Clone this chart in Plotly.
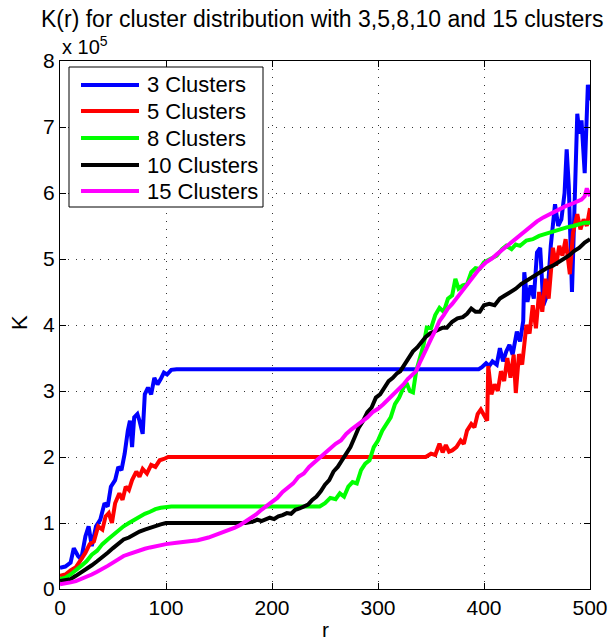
import plotly.graph_objects as go

# ---- data (K in units of 1e5) ----
r_3 = [0,5,10,13,17,20,24,27,30,34,38,42,45,48,52,55,58,61,64,66,68,70,73,75,78,80,83,86,89,92,95,98,101,105,110,
       395,398,402,405,408,412,415,418,421,424,427,431,434,437,438,441,444,447,450,453,456,460,463,467,470,473,476,478,480,483,486,488,490,492,495,498,500]
k_3 = [0.32,0.34,0.40,0.62,0.50,0.45,0.80,0.95,0.65,0.95,1.05,1.30,1.25,1.55,1.65,1.85,1.80,2.05,2.40,2.55,2.15,2.60,2.65,2.55,2.35,2.95,3.05,2.95,3.20,3.10,3.18,3.28,3.25,3.32,3.33,
       3.33,3.36,3.42,3.38,3.45,3.40,3.65,3.45,3.60,3.70,3.55,3.90,3.75,4.06,4.80,4.35,4.60,4.40,5.10,5.17,4.30,4.47,5.20,5.83,5.50,5.60,6.00,6.66,6.10,4.50,6.20,7.20,6.90,7.10,6.30,7.64,7.40]

r_5 = [0,5,10,15,20,24,28,32,36,40,43,46,49,52,56,59,62,65,68,72,75,78,82,86,90,94,98,102,108,
       345,350,354,358,361,364,367,370,374,378,381,384,388,391,394,397,400,403,404,407,410,413,416,419,422,425,428,430,433,436,440,443,446,449,452,455,458,461,465,468,471,474,477,481,484,488,491,494,497,500]
k_5 = [0.20,0.22,0.28,0.33,0.45,0.55,0.68,0.72,0.95,0.90,1.10,1.15,1.00,1.30,1.45,1.35,1.55,1.50,1.65,1.78,1.70,1.82,1.75,1.88,1.85,1.95,1.97,2.00,2.00,
       2.00,2.05,2.03,2.20,2.07,2.18,2.08,2.10,2.15,2.25,2.20,2.40,2.50,2.45,2.65,2.72,2.62,2.55,3.38,2.95,3.10,3.00,3.30,3.15,3.50,3.20,3.55,2.97,3.56,3.40,4.00,3.87,4.30,3.95,4.50,4.20,4.70,4.40,5.17,4.90,5.20,5.05,5.30,4.77,5.40,5.68,5.45,5.60,5.50,5.77]

r_8 = [0,5,10,15,20,25,30,35,40,45,50,55,60,65,70,75,80,85,90,95,100,105,
       245,250,255,260,264,268,272,276,280,284,288,292,296,300,304,308,312,316,320,324,327,330,333,336,340,343,346,350,354,358,362,366,370,373,376,380,384,388,392,396,400,406,412,417,421,426,430,434,440,446,452,458,465,472,478,484,490,495,500]
k_8 = [0.15,0.17,0.22,0.28,0.35,0.42,0.52,0.58,0.68,0.75,0.82,0.90,0.95,1.00,1.05,1.10,1.14,1.17,1.21,1.23,1.24,1.25,
       1.25,1.30,1.38,1.36,1.45,1.40,1.55,1.62,1.60,1.80,1.90,1.95,2.15,2.25,2.40,2.50,2.60,2.80,2.90,3.05,3.12,3.00,2.98,3.30,3.55,3.70,3.96,3.95,4.15,4.26,4.20,4.40,4.45,4.70,4.55,4.60,4.62,4.80,4.86,4.85,4.95,5.00,5.05,5.15,5.20,5.15,5.22,5.20,5.28,5.30,5.35,5.38,5.42,5.45,5.48,5.50,5.52,5.55,5.55]

r_10 = [0,5,10,15,20,25,30,35,40,45,50,55,60,65,70,75,80,85,90,95,100,105,
        175,182,186,190,195,198,202,206,210,214,218,222,226,230,234,238,242,246,250,254,258,262,266,270,274,278,282,286,290,294,298,302,306,310,314,318,321,325,329,333,337,341,345,349,353,357,361,365,370,375,380,384,388,392,396,400,405,410,415,420,425,430,435,440,445,450,455,459,465,470,475,480,485,490,495,500]
k_10 = [0.12,0.13,0.15,0.20,0.25,0.30,0.36,0.42,0.48,0.55,0.62,0.68,0.75,0.78,0.83,0.87,0.90,0.93,0.96,0.98,1.00,1.00,
        1.00,1.02,1.05,1.03,1.06,1.08,1.06,1.10,1.12,1.15,1.14,1.20,1.22,1.25,1.28,1.35,1.40,1.48,1.58,1.65,1.78,1.85,1.95,2.05,2.15,2.30,2.45,2.55,2.68,2.75,2.90,2.95,3.05,3.15,3.20,3.27,3.30,3.40,3.50,3.60,3.66,3.75,3.82,3.87,3.90,3.92,3.96,3.96,4.05,4.10,4.12,4.17,4.25,4.20,4.20,4.30,4.32,4.30,4.40,4.45,4.50,4.55,4.62,4.67,4.72,4.78,4.82,4.86,4.90,4.95,5.00,5.05,5.12,5.17,5.25,5.30]

r_15 = [0,5,10,15,20,25,30,35,40,45,50,55,60,65,70,75,80,85,90,95,100,110,120,130,140,150,155,160,165,170,175,180,185,190,195,200,205,210,215,220,225,230,235,240,245,250,255,260,265,270,275,280,285,290,295,300,305,310,315,320,324,328,332,336,340,343,347,351,355,358,362,366,370,374,378,382,386,390,396,402,407,412,418,424,429,434,440,445,450,456,462,467,472,477,482,488,492,495,497,500]
k_15 = [0.07,0.08,0.10,0.12,0.15,0.19,0.22,0.26,0.30,0.35,0.40,0.45,0.50,0.53,0.56,0.59,0.61,0.63,0.65,0.67,0.68,0.70,0.72,0.74,0.78,0.84,0.86,0.90,0.93,0.97,1.02,1.08,1.13,1.20,1.26,1.32,1.38,1.47,1.54,1.60,1.70,1.75,1.85,1.92,2.00,2.05,2.12,2.20,2.25,2.35,2.42,2.48,2.53,2.60,2.68,2.73,2.80,2.88,2.95,3.02,3.10,3.18,3.25,3.30,3.45,3.56,3.70,3.82,3.95,4.06,4.15,4.25,4.32,4.40,4.50,4.58,4.65,4.72,4.86,4.95,5.00,5.07,5.15,5.22,5.30,5.37,5.45,5.50,5.57,5.63,5.68,5.72,5.77,5.80,5.83,5.87,5.90,5.95,6.07,5.95]

series_names = ["3 Clusters", "5 Clusters", "8 Clusters", "10 Clusters", "15 Clusters"]
series_r = [r_3, r_5, r_8, r_10, r_15]
series_k = [k_3, k_5, k_8, k_10, k_15]
series_colors = ["#0000ff", "#ff0000", "#00ff00", "#000000", "#ff00ff"]

x_ticks = [0, 100, 200, 300, 400, 500]
y_ticks = [0, 1, 2, 3, 4, 5, 6, 7, 8]

FONT = "Liberation Sans, Arial, Helvetica, sans-serif"

W, H = 611, 644
ML, MR, MT, MB = 60, 21, 61, 55
PW, PH = W - ML - MR, H - MT - MB

def px_x(p):  # pixel -> paper x
    return (p - ML) / PW

def px_y(p):  # pixel -> paper y
    return (H - MB - p) / PH

fig = go.Figure()
for name, r, k, c in zip(series_names, series_r, series_k, series_colors):
    fig.add_trace(go.Scatter(x=r, y=k, mode="lines", name=name,
                             line=dict(color=c, width=4), showlegend=False))

axis_common = dict(
    showline=True, linecolor="black", linewidth=1, mirror="ticks",
    ticks="inside", ticklen=6, tickcolor="black", automargin=False,
    showgrid=True, gridcolor="#333333", gridwidth=1, griddash="1px,7px",
    zeroline=False, tickfont=dict(family=FONT, size=21, color="black"),
)

fig.update_xaxes(range=[0, 500], tickvals=x_ticks, **axis_common)
fig.update_yaxes(range=[0, 8], tickvals=y_ticks, **axis_common)

shapes = []
annotations = []

# legend box (manual, MATLAB style)
LX0, LX1, LY0, LY1 = 69, 263, 67, 207
shapes.append(dict(type="rect", xref="paper", yref="paper",
                   x0=px_x(LX0), x1=px_x(LX1), y0=px_y(LY1), y1=px_y(LY0),
                   line=dict(color="black", width=1), fillcolor="white", layer="above"))
row_y = [85, 111, 138, 165, 191]
for name, c, ry in zip(series_names, series_colors, row_y):
    shapes.append(dict(type="line", xref="paper", yref="paper",
                       x0=px_x(81), x1=px_x(139), y0=px_y(ry), y1=px_y(ry),
                       line=dict(color=c, width=4), layer="above"))
    annotations.append(dict(text=name, x=px_x(145), y=px_y(ry), xref="paper", yref="paper",
                            xanchor="left", yanchor="middle", showarrow=False,
                            font=dict(family=FONT, size=22, color="black")))

annotations += [
    dict(text="K(r) for cluster distribution with 3,5,8,10 and 15 clusters",
         x=px_x(322), y=px_y(19), xref="paper", yref="paper",
         xanchor="center", yanchor="middle", showarrow=False,
         font=dict(family=FONT, size=23, color="black")),
    dict(text="x 10<sup>5</sup>", x=px_x(60), y=px_y(MT), xref="paper", yref="paper",
         xanchor="left", yanchor="bottom", yshift=1, showarrow=False,
         font=dict(family=FONT, size=20, color="black")),
    dict(text="K", x=px_x(19), y=px_y(323), xref="paper", yref="paper",
         xanchor="center", yanchor="middle", showarrow=False, textangle=-90,
         font=dict(family=FONT, size=22, color="black")),
    dict(text="r", x=px_x(325), y=px_y(629), xref="paper", yref="paper",
         xanchor="center", yanchor="middle", showarrow=False,
         font=dict(family=FONT, size=21, color="black")),
]

fig.update_layout(
    width=W, height=H,
    margin=dict(l=ML, r=MR, t=MT, b=MB),
    paper_bgcolor="white", plot_bgcolor="white",
    font=dict(family=FONT, color="black"),
    showlegend=False,
    shapes=shapes,
    annotations=annotations,
)

fig.write_html("out.html")
